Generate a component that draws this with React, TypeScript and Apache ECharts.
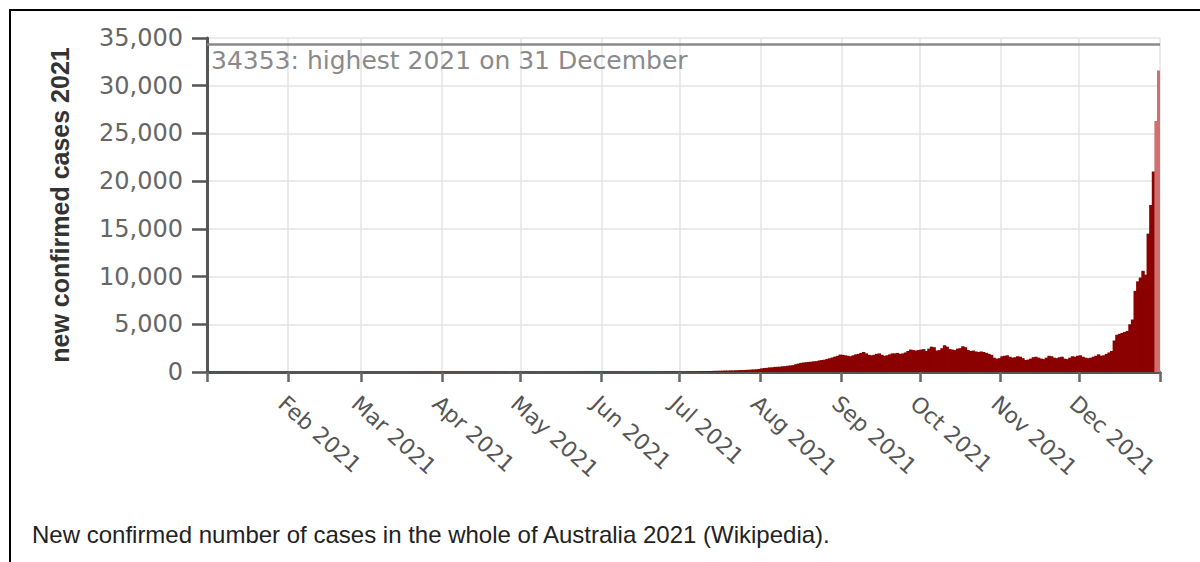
import React, { useEffect, useRef } from "react";
import * as echarts from "echarts";

const monthNames = ["Jan", "Feb", "Mar", "Apr", "May", "Jun", "Jul", "Aug", "Sep", "Oct", "Nov", "Dec"];
const daysInMonth = [31, 28, 31, 30, 31, 30, 31, 31, 30, 31, 30, 31];
const year = 2021;

const janCases = [15, 20, 25, 20, 15, 18, 22, 30, 25, 15, 12, 10, 8, 10, 12, 9, 8, 6, 7, 8, 6, 9, 7, 5, 6, 4, 5, 6, 4, 5, 6];
const febCases = [3, 4, 3, 5, 6, 4, 5, 6, 7, 9, 8, 10, 12, 9, 8, 6, 5, 7, 6, 4, 5, 6, 4, 5, 3, 4, 6, 5];
const marCases = [5, 4, 6, 5, 7, 6, 5, 4, 6, 8, 7, 6, 5, 9, 8, 7, 6, 10, 12, 9, 8, 11, 10, 9, 12, 14, 10, 9, 11, 13, 12];
const aprCases = [15, 18, 14, 12, 11, 10, 13, 16, 14, 12, 15, 18, 20, 17, 14, 12, 11, 15, 13, 10, 9, 14, 16, 18, 12, 10, 9, 11, 13, 12];
const mayCases = [10, 9, 8, 12, 11, 9, 10, 8, 7, 9, 12, 10, 11, 8, 9, 10, 7, 8, 9, 6, 8, 10, 9, 12, 18, 22, 25, 20, 24, 18, 16];
const junCases = [20, 18, 15, 14, 12, 10, 11, 13, 12, 9, 10, 14, 12, 15, 13, 16, 20, 22, 18, 21, 24, 28, 30, 35, 40, 45, 42, 38, 36, 30];
const julCases = [25, 32, 30, 42, 45, 38, 52, 60, 72, 78, 95, 105, 110, 125, 120, 135, 140, 155, 150, 170, 165, 180, 190, 205, 200, 225, 230, 255, 270, 285, 320];
const augCases = [380, 420, 440, 480, 490, 530, 545, 560, 600, 615, 660, 690, 720, 810, 880, 960, 990, 1030, 1060, 1080, 1120, 1140, 1210, 1260, 1290, 1370, 1440, 1520, 1610, 1690, 1820];
const sepCases = [1800, 1750, 1700, 1650, 1750, 1850, 1900, 2000, 2100, 1950, 1800, 1750, 1800, 1900, 1950, 1800, 1700, 1750, 1850, 1950, 1950, 2000, 1900, 1950, 2050, 2200, 2350, 2300, 2250, 2300];
const octCases = [2350, 2400, 2200, 2450, 2650, 2600, 2250, 2300, 2500, 2800, 2650, 2400, 2350, 2300, 2450, 2500, 2700, 2600, 2300, 2200, 2250, 2150, 2100, 2150, 2100, 2000, 1900, 1800, 1500, 1400, 1450];
const novCases = [1650, 1700, 1750, 1600, 1500, 1550, 1650, 1600, 1450, 1250, 1300, 1400, 1550, 1600, 1500, 1400, 1350, 1500, 1700, 1650, 1500, 1450, 1550, 1600, 1400, 1350, 1500, 1650, 1600, 1700];
const decCases = [1750, 1600, 1500, 1450, 1500, 1600, 1700, 1850, 1700, 1750, 1900, 2050, 2200, 3300, 3900, 4000, 4100, 4200, 4300, 5000, 5500, 8500, 9500, 9900, 10600, 10200, 14500, 17500, 21000, 26300, 31600];

const highestValue = 34353;
const highestLabel = `${highestValue}: highest 2021 on 31 December`;
const yAxisName = "new confirmed cases 2021";
const caption = "New confirmed number of cases in the whole of Australia 2021 (Wikipedia).";

const dailyCases = [
  ...janCases, ...febCases, ...marCases, ...aprCases, ...mayCases, ...junCases,
  ...julCases, ...augCases, ...sepCases, ...octCases, ...novCases, ...decCases,
];

const pad = (n: number) => (n < 10 ? "0" + n : "" + n);
const dayCategories: string[] = [];
daysInMonth.forEach((count, m) => {
  for (let d = 1; d <= count; d++) dayCategories.push(`${year}-${pad(m + 1)}-${pad(d)}`);
});

const isMonthStart = (v: string) => v.slice(8) === "01";

function Chart() {
  const ref = useRef<HTMLDivElement>(null);
  useEffect(() => {
    if (!ref.current) return;
    const chart = echarts.init(ref.current, null, { renderer: "svg" });
    const lastIdx = dailyCases.length - 1;
    chart.setOption({
      animation: false,
      grid: { left: 207, right: 40, top: 38, bottom: 190, containLabel: false },
      xAxis: {
        type: "category",
        data: dayCategories,
        boundaryGap: true,
        axisLine: { show: true, lineStyle: { color: "#555", width: 3 } },
        axisTick: {
          show: true,
          length: 10,
          interval: (i: number, v: string) => isMonthStart(v),
          lineStyle: { color: "#666", width: 2.5 },
        },
        axisLabel: {
          interval: (i: number, v: string) => isMonthStart(v) && v.slice(5, 7) !== "01",
          formatter: (v: string) => `${monthNames[parseInt(v.slice(5, 7), 10) - 1]} ${v.slice(0, 4)}`,
          rotate: -42,
          align: "left",
          verticalAlign: "top",
          margin: 20,
          color: "#555",
          fontFamily: "DejaVu Sans",
          fontSize: 22,
        },
        splitLine: {
          show: true,
          interval: (i: number, v: string) => isMonthStart(v),
          lineStyle: { color: "#e4e4e4", width: 1.5 },
        },
      },
      yAxis: {
        type: "value",
        min: 0,
        max: 35000,
        interval: 5000,
        name: yAxisName,
        nameLocation: "middle",
        nameRotate: 90,
        nameGap: 135,
        nameTextStyle: {
          fontFamily: "Liberation Sans",
          fontWeight: "bold",
          fontSize: 25,
          color: "#333",
        },
        axisLine: { show: true, lineStyle: { color: "#555", width: 3 } },
        axisTick: { show: true, length: 15, lineStyle: { color: "#555", width: 2.5 } },
        axisLabel: {
          margin: 24,
          color: "#666",
          fontFamily: "DejaVu Sans",
          fontSize: 24,
          formatter: (v: number) => v.toLocaleString("en-US"),
        },
        splitLine: { show: true, lineStyle: { color: "#e4e4e4", width: 1.5 } },
      },
      series: [
        {
          type: "bar",
          data: dailyCases,
          barWidth: "130%",
          itemStyle: {
            color: (p: any) => (p.dataIndex >= lastIdx - 1 ? "#cf7070" : "#8b0000"),
          },
          markLine: {
            silent: true,
            symbol: "none",
            lineStyle: { color: "#8a8a8a", width: 2.5, type: "solid" },
            label: {
              show: true,
              position: "insideStartBottom",
              formatter: highestLabel,
              color: "#8a8a8a",
              fontFamily: "DejaVu Sans",
              fontSize: 25,
              distance: 4,
            },
            data: [{ yAxis: highestValue }],
          },
        },
      ],
    });
    return () => chart.dispose();
  }, []);
  return <div ref={ref} style={{ position: "absolute", left: 0, top: 0, width: 1200, height: 562 }} />;
}

export default function App() {
  return (
    <div style={{ position: "fixed", left: 0, top: 0, width: 1200, height: 562, background: "#fff", overflow: "hidden" }}>
      <Chart />
      <div style={{ position: "absolute", left: 9, top: 9, width: 1191, height: 2, background: "#000" }} />
      <div style={{ position: "absolute", left: 9, top: 9, width: 2, height: 553, background: "#000" }} />
      <div
        style={{
          position: "absolute",
          left: 32,
          top: 521,
          fontFamily: "'Liberation Sans', Arial, sans-serif",
          fontSize: 24,
          color: "#222",
          whiteSpace: "nowrap",
        }}
      >
        {caption}
      </div>
    </div>
  );
}
